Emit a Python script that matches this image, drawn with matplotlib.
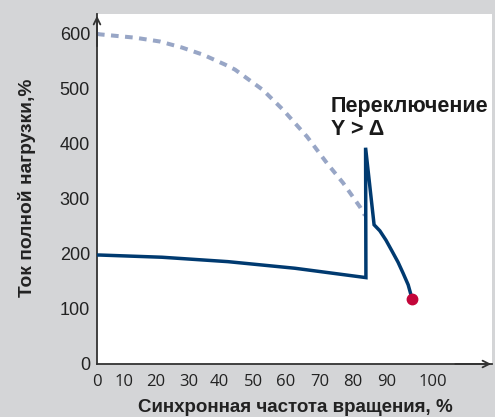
import numpy as np
import matplotlib
matplotlib.use("Agg")
import matplotlib.pyplot as plt
from matplotlib.scale import FuncScale

# ---- data (speed %, current %) ----
dashed_x = [0, 1.1, 13.4, 21.2, 27.9, 34.7, 41.8, 44.7, 53.0, 59.1, 66.2, 72.1, 77.0, 82.1, 83.5]
dashed_y = [600, 599, 593, 586, 575, 562, 544, 535, 498, 462, 413, 365, 329, 285, 270]

solid_x = [0, 1.1, 21.8, 42.6, 62.6, 83.8, 83.7, 86.2, 87.9, 89.7, 91.1, 92.4, 93.5, 94.6, 95.4]
solid_y = [198, 198, 194, 186, 174, 157, 393, 253, 242, 225, 205, 185, 165, 144, 120]

end_x = [95.5]
end_y = [118]

xtick_vals = [0, 10, 20, 30, 40, 50, 60, 70, 80, 90, 100]
ytick_vals = [0, 100, 200, 300, 400, 500, 600]

xlabel = "Синхронная частота вращения, %"
ylabel = "Ток полной нагрузки,%"
note = "Переключение\nY > Δ"

# ---- layout: non-uniform placement of the x tick labels (pixels) ----
W, H = 495, 417
ax_l, ax_r, ax_b, ax_t = 97, 492, 364, 14
xt_px = [97, 124, 156, 189, 219, 253, 286, 320, 353, 387, 433]
map_v = [-20] + xtick_vals + [130]
map_p = [97 - 54] + xt_px + [433 + 30 * 4.6]

def fwd(v):
    return np.interp(np.asarray(v, dtype=float), map_v, map_p)

def inv(p):
    return np.interp(np.asarray(p, dtype=float), map_p, map_v)

bg = "#d4d5d7"
navy = "#003a70"
dash_c = "#98a6c6"
red = "#c3063a"
axc = "#333333"

fig = plt.figure(figsize=(W / 100, H / 100), dpi=100, facecolor=bg)
ax = fig.add_axes([ax_l / W, (H - ax_b) / H, (ax_r - ax_l) / W, (ax_b - ax_t) / H])
ax.set_facecolor("white")
ax.set_xscale(FuncScale(ax, (fwd, inv)))
ax.set_xlim(0, float(inv(ax_r)))
ax.set_ylim(0, 636)

ax.plot(dashed_x, dashed_y, color=dash_c, lw=2.9, linestyle=(0, (1.9, 1.6)),
        solid_capstyle="butt", dash_capstyle="butt", zorder=2)
ax.plot(solid_x, solid_y, color=navy, lw=2.5, solid_joinstyle="miter", zorder=3)
ax.plot(end_x, end_y, "o", color=red, ms=7.5, zorder=4)

for s in ["top", "right"]:
    ax.spines[s].set_visible(False)
for s in ["left", "bottom"]:
    ax.spines[s].set_color(axc)
    ax.spines[s].set_linewidth(1.3)

ax.set_xticks(xtick_vals)
ax.set_xticklabels([str(v) for v in xtick_vals], fontfamily="Open Sans", fontsize=12, color="#222222")
ax.set_yticks(ytick_vals)
ax.set_yticklabels([str(v) for v in ytick_vals], fontfamily="Liberation Sans", fontsize=13, color="#222222")
ax.tick_params(axis="both", length=0)
ax.tick_params(axis="y", pad=5)
ax.tick_params(axis="x", pad=7)

# axis arrows
ax.annotate("", xy=(0, (ax_b - 13) / (ax_b - ax_t)), xycoords="axes fraction",
            xytext=(0, 0.9), arrowprops=dict(arrowstyle="->", lw=1.3, color=axc,
                                             mutation_scale=12), annotation_clip=False)
ax.annotate("", xy=((494 - ax_l) / (ax_r - ax_l), 0), xycoords="axes fraction",
            xytext=(0.9, 0), arrowprops=dict(arrowstyle="->", lw=1.3, color=axc,
                                             mutation_scale=12), annotation_clip=False)

fig.text(295 / W, 1 - 408 / H, xlabel, ha="center", va="center",
         fontfamily="Liberation Sans", fontweight="bold", fontsize=13.5, color="#222222")
fig.text(27 / W, 1 - 188 / H, ylabel, ha="center", va="center", rotation=90,
         fontfamily="Liberation Sans", fontweight="bold", fontsize=13.8, color="#222222")

ax.text(float(inv(331)), 636 - (96 - ax_t) / 0.55, note, ha="left", va="top",
        fontfamily="Liberation Sans", fontweight="bold", fontsize=15.5,
        color="#1a1a1a", linespacing=1.1)

fig.savefig("out.png", dpi=100, facecolor=bg)
